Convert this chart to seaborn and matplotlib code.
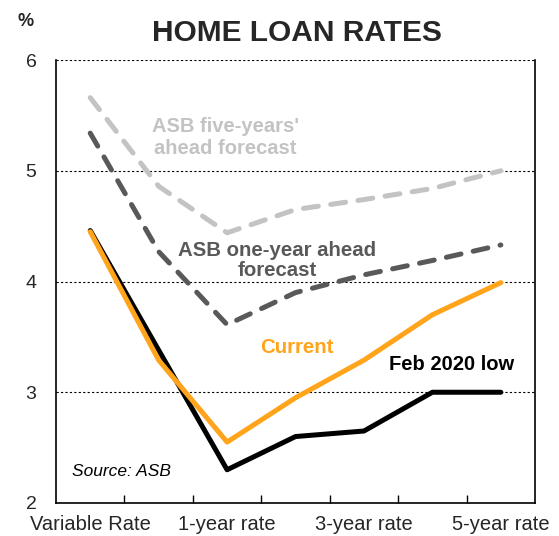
import pandas as pd
import matplotlib.pyplot as plt
import seaborn as sns
from matplotlib.ticker import FixedLocator

# ===== Данные =====
terms = ["Variable Rate", "6-month rate", "1-year rate", "2-year rate",
         "3-year rate", "4-year rate", "5-year rate"]
tick_labels = ["Variable Rate", "1-year rate", "3-year rate", "5-year rate"]

five_year_ahead = [5.66, 4.86, 4.44, 4.65, 4.74, 4.84, 5.00]
one_year_ahead = [5.34, 4.27, 3.61, 3.90, 4.06, 4.19, 4.33]
feb_2020_low = [4.46, 3.38, 2.30, 2.60, 2.65, 3.00, 3.00]
current = [4.45, 3.29, 2.55, 2.95, 3.29, 3.70, 3.99]

sns.set_style("white")
plt.rcParams["font.family"] = ["Liberation Sans", "DejaVu Sans"]

fig = plt.figure(figsize=(5.59, 5.36), dpi=100)
ax = fig.add_axes([0.1002, 0.0616, 0.857, 0.8264])

pos = list(range(len(terms)))
lw = 3.6

# Прогнозы - пунктир
for vals, col in [(five_year_ahead, "#c3c3c3"), (one_year_ahead, "#595959")]:
    sns.lineplot(x=pos, y=vals, ax=ax, color=col, linewidth=lw)
    line = ax.lines[-1]
    line.set_dashes((3.0, 2.5))
    line.set_dash_capstyle("round")

sns.lineplot(x=pos, y=feb_2020_low, ax=ax, color="black", linewidth=lw)
sns.lineplot(x=pos, y=current, ax=ax, color="#ffa41b", linewidth=lw)

ax.set_xlim(-0.5, 6.5)
ax.set_ylim(2, 6)

# Оси
ax.set_yticks([2, 3, 4, 5, 6])
ax.set_yticklabels(["2", "3", "4", "5", "6"], fontsize=14)
ax.tick_params(axis="y", length=0, pad=14)
for yv in [3, 4, 5, 6]:
    ax.axhline(yv, color="black", linestyle=(0, (2, 2)), linewidth=0.8, zorder=0)

ax.set_xticks([0, 2, 4, 6])
ax.set_xticklabels(tick_labels, fontsize=14.5)
ax.xaxis.set_minor_locator(FixedLocator([0.5, 1.5, 2.5, 3.5, 4.5, 5.5]))
ax.tick_params(axis="x", which="major", length=0, pad=9)
ax.tick_params(axis="x", which="minor", direction="in", length=6,
               width=1, color="black", bottom=True)

for side in ["left", "right", "bottom"]:
    ax.spines[side].set_color("black")
    ax.spines[side].set_linewidth(1.2)
ax.spines["top"].set_visible(False)
ax.set_xlabel("")
ax.set_ylabel("")

# Подписи
fig.text(0.531, 0.938, "HOME LOAN RATES", ha="center", va="center",
         fontsize=21.5, fontweight="bold")
fig.text(0.045, 0.959, "%", ha="center", va="center", fontsize=13,
         fontweight="bold")

ax.text(1.97, 5.30, "ASB five-years'\nahead forecast", ha="center", va="center",
        fontsize=14.5, fontweight="bold", color="#c3c3c3", linespacing=1.15)
ax.text(2.73, 4.19, "ASB one-year ahead\nforecast", ha="center", va="center",
        fontsize=14.7, fontweight="bold", color="#595959", linespacing=1.1)
ax.text(3.02, 3.40, "Current", ha="center", va="center",
        fontsize=14.7, fontweight="bold", color="#ffa41b")
ax.text(5.28, 3.25, "Feb 2020 low", ha="center", va="center",
        fontsize=14.5, fontweight="bold", color="black")
ax.text(-0.26, 2.28, "Source: ASB", ha="left", va="center",
        fontsize=12.5, style="italic", color="black")

fig.savefig("out.png", dpi=100)
